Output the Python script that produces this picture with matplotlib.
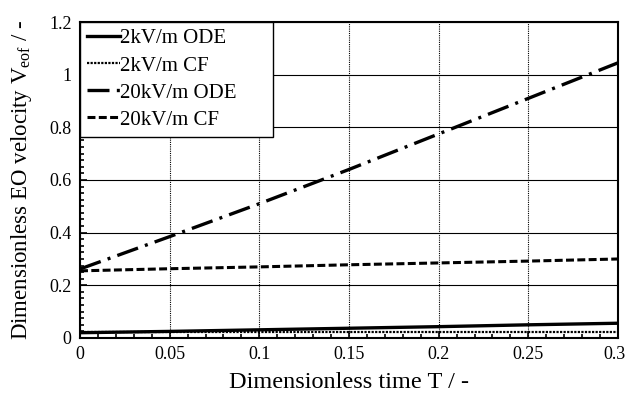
import numpy as np
import matplotlib
matplotlib.use("Agg")
import matplotlib.pyplot as plt
import matplotlib.transforms as mtransforms
from matplotlib.ticker import MultipleLocator

plt.rcParams['font.family'] = ['Liberation Serif', 'DejaVu Serif']
plt.rcParams['mathtext.fontset'] = 'custom'
plt.rcParams['mathtext.rm'] = 'Liberation Serif'

# dimensionless time
T = [0.0, 0.05, 0.1, 0.15, 0.2, 0.25, 0.3]
# velocities
ode_2kv = [0.020, 0.025, 0.031, 0.037, 0.043, 0.050, 0.056]
cf_2kv = [0.021, 0.021, 0.021, 0.021, 0.021, 0.021, 0.021]
ode_20kv = [0.262, 0.385, 0.510, 0.640, 0.775, 0.910, 1.045]
cf_20kv = [0.255, 0.263, 0.270, 0.278, 0.285, 0.292, 0.300]

xticks = [0, 0.05, 0.1, 0.15, 0.2, 0.25, 0.3]
xlabels = ['0', '0.05', '0.1', '0.15', '0.2', '0.25', '0.3']
yticks = [0, 0.2, 0.4, 0.6, 0.8, 1.0, 1.2]
ylabels = ['0', '0.2', '0.4', '0.6', '0.8', '1', '1.2']

fig = plt.figure(figsize=(6.27, 3.98), dpi=100)
ax = fig.add_axes([0.1276, 0.1508, 0.858, 0.7939])

ax.plot(T, ode_2kv, color='black', lw=2.4, ls='-', label='2kV/m ODE')
ax.plot(T, cf_2kv, color='black', lw=1.6, ls=(0, (1, 0.6)), label='2kV/m CF')
ax.plot(T, ode_20kv, color='black', lw=2.4, ls=(0, (6.6, 2.2, 0.9, 2.2)), label='20kV/m ODE')
ax.plot(T, cf_20kv, color='black', lw=2.2, ls=(0, (2.6, 1.1)), label='20kV/m CF')

ax.set_xlim(0, 0.3)
ax.set_ylim(0, 1.2)
ax.set_xticks(xticks)
ax.set_xticklabels(xlabels)
ax.set_yticks(yticks)
ax.set_yticklabels(ylabels)
ax.xaxis.set_minor_locator(MultipleLocator(0.01))
ax.yaxis.set_minor_locator(MultipleLocator(0.025))

ax.tick_params(which='both', direction='in', width=1.2, labelsize=13)
ax.tick_params(which='major', length=5)
ax.tick_params(which='minor', length=3)
ax.tick_params(axis='x', pad=6)
ax.tick_params(axis='y', pad=6)

# last x label sits at the figure edge, nudge it in a little
lab = ax.get_xticklabels()[-1]
lab.set_transform(lab.get_transform() + mtransforms.ScaledTranslation(-3 / 100, 0, fig.dpi_scale_trans))

ax.grid(axis='y', which='major', color='black', lw=0.8, ls='-')
ax.grid(axis='x', which='major', color='black', lw=0.8, ls=(0, (1, 1)))
ax.set_axisbelow(True)
for s in ax.spines.values():
    s.set_linewidth(1.5)

ax.set_xlabel('Dimensionless time T / -', fontsize=17.5, labelpad=6)
ax.set_ylabel(r'Dimensionless EO velocity V$_{\mathrm{eof}}$ / -', fontsize=16.5, labelpad=11)

leg = ax.legend(loc='upper left', bbox_to_anchor=(0, 0, 0.359, 1), mode='expand',
                fontsize=15, frameon=True, fancybox=False,
                borderaxespad=0, handlelength=1.6, handletextpad=0, labelspacing=0.36,
                borderpad=0.33)
leg.get_frame().set_edgecolor('black')
leg.get_frame().set_linewidth(1.0)
leg.get_frame().set_alpha(1)

fig.savefig('out.png', dpi=100)
